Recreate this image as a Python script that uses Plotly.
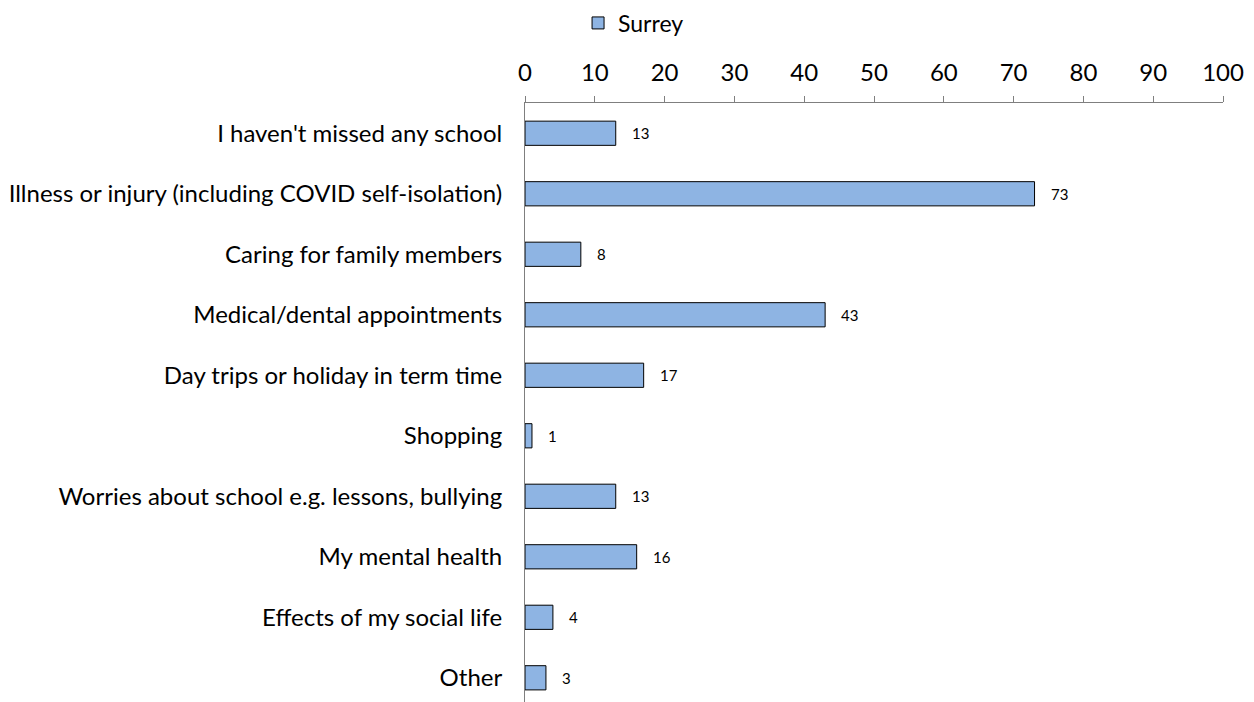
import plotly.graph_objects as go

# --------------------
# Data
# --------------------
categories = [
    "I haven't missed any school",
    "Illness or injury (including COVID self-isolation)",
    "Caring for family members",
    "Medical/dental appointments",
    "Day trips or holiday in term time",
    "Shopping",
    "Worries about school e.g. lessons, bullying",
    "My mental health",
    "Effects of my social life",
    "Other",
]
surrey = [13, 73, 8, 43, 17, 1, 13, 16, 4, 3]
tick_vals = [0, 10, 20, 30, 40, 50, 60, 70, 80, 90, 100]

FONT = "Lato"
AXIS_GREY = "#7f7f7f"

fig = go.Figure(
    go.Bar(
        x=surrey,
        y=categories,
        orientation="h",
        name="Surrey",
        marker=dict(color="#8EB4E3", line=dict(color="#000000", width=1)),
    )
)

# value labels to the right of each bar
for cat, val in zip(categories, surrey):
    fig.add_annotation(
        x=val, y=cat, text=str(val), showarrow=False,
        xanchor="left", xshift=14,
        font=dict(family=FONT, size=15, color="#000000"),
    )

# page body has an 8px margin, so the figure is 8px smaller each way
fig.update_layout(
    width=1246,
    height=694,
    margin=dict(l=517, r=31, t=95, b=0, autoexpand=False),
    paper_bgcolor="white",
    plot_bgcolor="white",
    bargap=0.6,
    font=dict(family=FONT, size=24, color="#000000"),
    showlegend=True,
    legend=dict(
        orientation="h",
        x=0.076, xanchor="left",
        y=1.1336, yanchor="middle",
        font=dict(family=FONT, size=23),
        itemwidth=30,
    ),
    xaxis=dict(
        side="top",
        range=[0, 100],
        tickvals=tick_vals,
        showgrid=False,
        zeroline=False,
        showline=True,
        linecolor=AXIS_GREY,
        linewidth=1,
        ticks="outside",
        ticklen=6,
        tickcolor=AXIS_GREY,
        ticklabelstandoff=5,
        tickfont=dict(family=FONT, size=24),
        automargin=False,
    ),
    yaxis=dict(
        # bottom row runs slightly past the page edge, as in the original
        range=[9.4, -0.5],
        showgrid=False,
        zeroline=False,
        showline=True,
        linecolor=AXIS_GREY,
        linewidth=1,
        ticks="",
        ticklabelstandoff=17,
        tickfont=dict(family=FONT, size=24),
        automargin=False,
    ),
)

fig.write_html("out.html")
